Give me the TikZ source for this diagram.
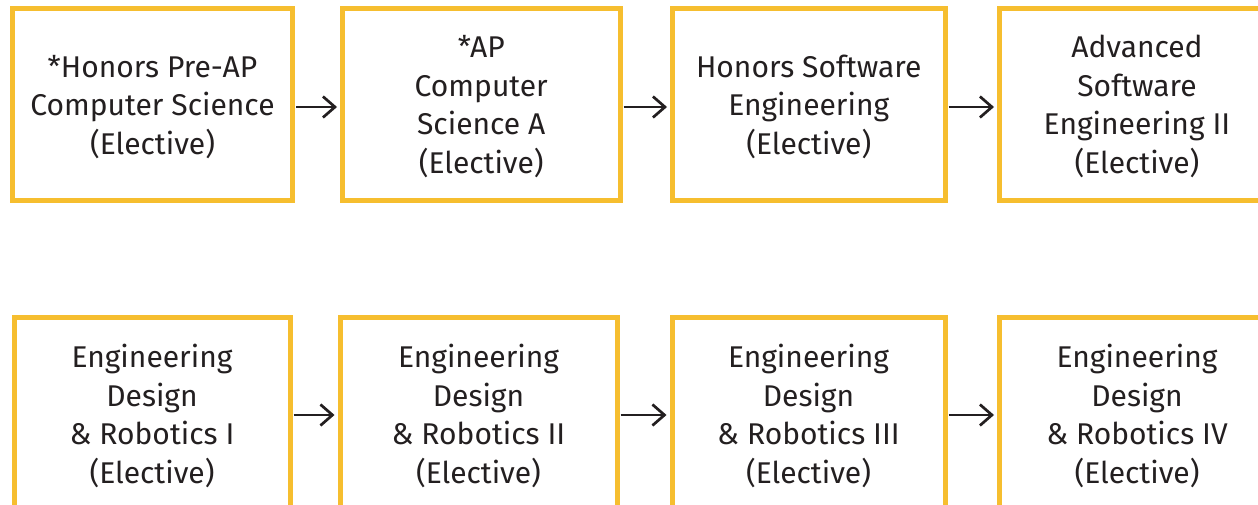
\documentclass[tikz,border=0pt]{standalone}
\usepackage{fontspec}
\setmainfont{Fira Sans}
\usetikzlibrary{arrows.meta}
\definecolor{gold}{HTML}{F6BE2F}
\definecolor{ink}{HTML}{231F20}

\begin{document}
\begin{tikzpicture}[x=1pt,y=-1pt,
  course/.style={draw=gold,line width=5pt,minimum height=192pt,align=center,
    inner sep=0pt,text=ink,font=\fontsize{30}{38.5}\selectfont,text depth=-5.5pt},
  link/.style={draw=ink,line width=2.7pt,-{Straight Barb[length=12pt,width=21pt]},
    shorten <=1pt,shorten >=3pt}]
\useasboundingbox (0,0) rectangle (1258,505);

% software track
\node[course,minimum width=280pt](t1) at (152.5,104.5) {*Honors Pre-AP\\Computer Science\\(Elective)};
\node[course,minimum width=277.5pt](t2) at (481.25,104.5) {*AP\\Computer\\Science A\\(Elective)};
\node[course,minimum width=272.5pt](t3) at (808.75,104.5) {Honors Software\\Engineering\\(Elective)};
\node[course,minimum width=275pt](t4) at (1137,104.5) {Advanced\\Software\\Engineering II\\(Elective)};

% robotics track
\node[course,minimum width=276pt,minimum height=193pt](b1) at (152,414) {Engineering\\Design\\\& Robotics I\\(Elective)};
\node[course,minimum width=277pt,minimum height=193pt](b2) at (478.5,414) {Engineering\\Design\\\& Robotics II\\(Elective)};
\node[course,minimum width=273pt,minimum height=193pt](b3) at (808.5,414) {Engineering\\Design\\\& Robotics III\\(Elective)};
\node[course,minimum width=275pt,minimum height=193pt](b4) at (1137,414) {Engineering\\Design\\\& Robotics IV\\(Elective)};

\foreach \a/\b in {t1/t2,t2/t3,t3/t4}
	\draw[link]([yshift=-2.5pt]\a.east)--([yshift=-2.5pt]\b.west);
\foreach \a/\b in {b1/b2,b2/b3,b3/b4}
	\draw[link]([yshift=-1pt]\a.east)--([yshift=-1pt]\b.west);

\end{tikzpicture}
\end{document}
